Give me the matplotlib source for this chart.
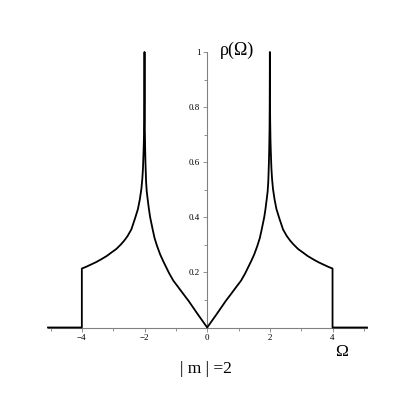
import matplotlib
matplotlib.use("Agg")
import matplotlib.pyplot as plt
from matplotlib.ticker import MultipleLocator, FixedLocator

# Density of states, right half (Omega >= 0)
omega_r = [0.0, 0.30, 0.59, 0.75, 0.94, 1.08, 1.21, 1.40, 1.50, 1.60, 1.68, 1.74,
           1.82, 1.86, 1.90, 1.93, 1.95, 1.97, 1.98, 1.99, 1.995, 1.998, 2.0,
           2.002, 2.005, 2.01, 2.02, 2.03, 2.05, 2.07, 2.10, 2.15, 2.21, 2.30,
           2.42, 2.54, 2.65, 2.75, 2.90, 3.07, 3.20, 3.39, 3.55, 3.70, 3.85, 4.0,
           4.0, 5.1]
rho_r = [0.0, 0.048, 0.096, 0.120, 0.149, 0.170, 0.196, 0.240, 0.265, 0.296, 0.325, 0.356,
         0.400, 0.430, 0.466, 0.495, 0.530, 0.600, 0.650, 0.720, 0.800, 0.900, 1.0,
         0.920, 0.820, 0.750, 0.680, 0.640, 0.576, 0.540, 0.503, 0.465, 0.430, 0.397,
         0.356, 0.332, 0.315, 0.302, 0.285, 0.271, 0.260, 0.247, 0.237, 0.229, 0.221, 0.214,
         0.0, 0.0]
# Left half (Omega <= 0), the mirror image as seen in the picture
omega_l = [-5.08, -4.0, -4.0, -3.85, -3.70, -3.55, -3.39, -3.20, -3.07, -2.90, -2.75,
           -2.65, -2.54, -2.42, -2.30, -2.21, -2.15, -2.10, -2.07, -2.05, -2.03, -2.02,
           -2.01, -2.005, -2.002, -2.0, -1.998, -1.995, -1.99, -1.98, -1.97, -1.95,
           -1.93, -1.90, -1.86, -1.82, -1.74, -1.68, -1.60, -1.50, -1.40, -1.21, -1.08,
           -0.94, -0.75, -0.59, -0.30, 0.0]
rho_l = [0.0, 0.0, 0.214, 0.221, 0.229, 0.237, 0.247, 0.260, 0.271, 0.285, 0.302,
         0.315, 0.332, 0.356, 0.397, 0.430, 0.465, 0.503, 0.540, 0.576, 0.640, 0.680,
         0.750, 0.820, 0.920, 1.0, 0.900, 0.800, 0.720, 0.650, 0.600, 0.530,
         0.495, 0.466, 0.430, 0.400, 0.356, 0.325, 0.296, 0.265, 0.240, 0.196, 0.170,
         0.149, 0.120, 0.096, 0.048, 0.0]

x_major = [-4, -2, 0, 2, 4]
x_minor = [-5, -3, -1, 1, 3, 5]
y_major = [0.2, 0.4, 0.6, 0.8, 1.0]
y_labels = ["0.2", "0.4", "0.6", "0.8", "1"]
x_labels = ["\u22124", "\u22122", "0", "2", "4"]

W = H = 415
fig = plt.figure(figsize=(W / 100, H / 100), dpi=100)
left, right, top, bottom = 48, 367, 52, 327.5
ax = fig.add_axes([left / W, 1 - bottom / H, (right - left) / W, (bottom - top) / H])
ax.set_xlim(-5.08, 5.1)
ax.set_ylim(0, 1.0)

ax.plot(omega_l + omega_r[1:], rho_l + rho_r[1:], color="black", lw=1.3,
        solid_joinstyle="round", clip_on=False, zorder=3)

for s in ["top", "right"]:
    ax.spines[s].set_visible(False)
ax.spines["left"].set_position(("data", 0))
ax.spines["bottom"].set_position(("data", 0))
for s in ["left", "bottom"]:
    ax.spines[s].set_color("#808080")
    ax.spines[s].set_linewidth(0.8)

ax.xaxis.set_major_locator(FixedLocator(x_major))
ax.xaxis.set_minor_locator(FixedLocator(x_minor))
ax.set_xticklabels(x_labels)
ax.yaxis.set_major_locator(FixedLocator(y_major))
ax.yaxis.set_minor_locator(MultipleLocator(0.1))
ax.set_yticklabels(y_labels)

serif = "Liberation Serif"
ax.tick_params(axis="both", which="major", length=3, width=0.6, color="#808080",
               labelsize=6.5, pad=2, direction="out")
ax.tick_params(axis="both", which="minor", length=2, width=0.6, color="#808080",
               direction="out")
for lab in ax.get_xticklabels() + ax.get_yticklabels():
    lab.set_family(serif)

fig.text(236.5 / W, 1 - 50 / H, "\u03c1(\u03a9)", family=serif, fontsize=13,
         ha="center", va="center")
fig.text(341.5 / W, 1 - 352 / H, "\u03a9", family=serif, fontsize=12.5,
         ha="center", va="center")
fig.text(206 / W, 1 - 369 / H, "| m | =2", family=serif, fontsize=12.5,
         ha="center", va="center")

fig.savefig("out.png", dpi=100)
